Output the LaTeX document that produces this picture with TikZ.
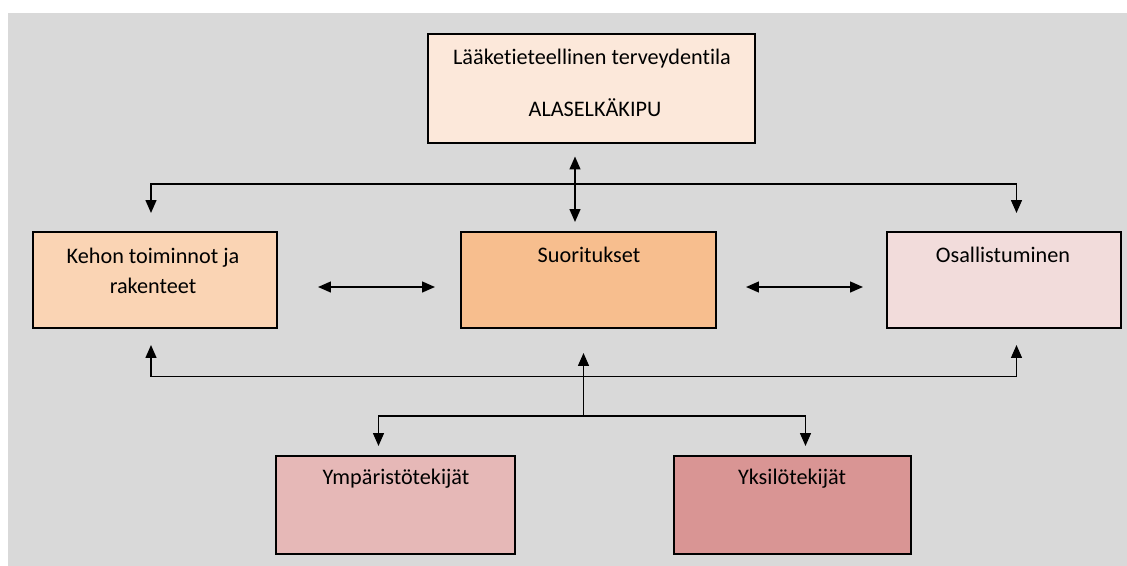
\documentclass[tikz,border=0pt]{standalone}
\usepackage{fontspec}
\setmainfont{Carlito}[Ligatures={NoCommon}]
\usetikzlibrary{arrows.meta,calc}
\definecolor{bggray}{HTML}{D9D9D9}
\definecolor{peachtop}{HTML}{FCE8DA}
\definecolor{peachlight}{HTML}{FAD4B4}
\definecolor{peachmid}{HTML}{F7BE8E}
\definecolor{rosepale}{HTML}{F2DCDB}
\definecolor{roselight}{HTML}{E6B8B7}
\definecolor{rosemid}{HTML}{D99594}

\begin{document}
\begin{tikzpicture}[x=0.025cm,y=-0.025cm,
    >={Triangle[length=0.32cm,width=0.27cm]},
    box/.style={draw=black,line width=0.9pt,inner sep=0pt,outer sep=0pt},
    lbl/.style={align=center,font=\fontsize{15.8}{21.3}\selectfont,text=black},
    conn/.style={line width=1.1pt}]
  \useasboundingbox (0,0) rectangle (1127,566);
  \fill[bggray] (8,13) rectangle (1127,566);

  % boxes
  \node[box,fill=peachtop,minimum width=8.175cm,minimum height=2.725cm] (laake) at (591.5,88.5) {};
  \node[box,fill=peachlight,minimum width=6.1cm,minimum height=2.4cm] (kehon) at (155,280) {};
  \node[box,fill=peachmid,minimum width=6.375cm,minimum height=2.4cm] (suor) at (588.5,280) {};
  \node[box,fill=rosepale,minimum width=5.85cm,minimum height=2.4cm] (osal) at (1004,280) {};
  \node[box,fill=roselight,minimum width=5.975cm,minimum height=2.45cm] (ymp) at (395.5,505) {};
  \node[box,fill=rosemid,minimum width=5.925cm,minimum height=2.45cm] (yksi) at (792.5,505) {};

  % texts
  \node[lbl] (laaket1) at (592,59) {Lääketieteellinen terveydentila};
  \node[lbl] (laaket2) at (595,108) {ALASELKÄKIPU};
  \node[lbl] (kehont) at (153,271) {Kehon toiminnot ja\\rakenteet};
  \node[lbl] (suort) at (589,255) {Suoritukset};
  \node[lbl] (osalt) at (1003,255) {Osallistuminen};
  \node[lbl] (ympt) at (396,479) {Ympäristötekijät};
  \node[lbl] (yksit) at (792,479) {Yksilötekijät};

  % connectors
  \coordinate (topbar) at (575,184);
  \coordinate (lowbar) at (583.5,376.5);
  \coordinate (fork) at (583.5,416);
  \draw[conn,<->] ($(laake.south)+(-16.5,13.5)$) -- ($(suor.north)+(-13.5,-10)$);
  \draw[conn,<->] ($(kehon.north)+(-4,-19)$) |- (topbar) -| ($(osal.north)+(12.5,-19)$);
  \draw[conn,<->] ($(kehon.east)+(41,7)$) -- ($(suor.west)+(-26,7)$);
  \draw[conn,<->] ($(suor.east)+(30,7)$) -- ($(osal.west)+(-24,7)$);
  \draw[conn,<->] ($(kehon.south)+(-4,17)$) |- (lowbar) -| ($(osal.south)+(12.5,17)$);
  \draw[conn,->] (fork) -- ($(suor.south)+(-5,25)$);
  \draw[conn,<->] ($(ymp.north)+(-17,-10)$) |- (fork) -| ($(yksi.north)+(13,-10)$);
\end{tikzpicture}
\end{document}
